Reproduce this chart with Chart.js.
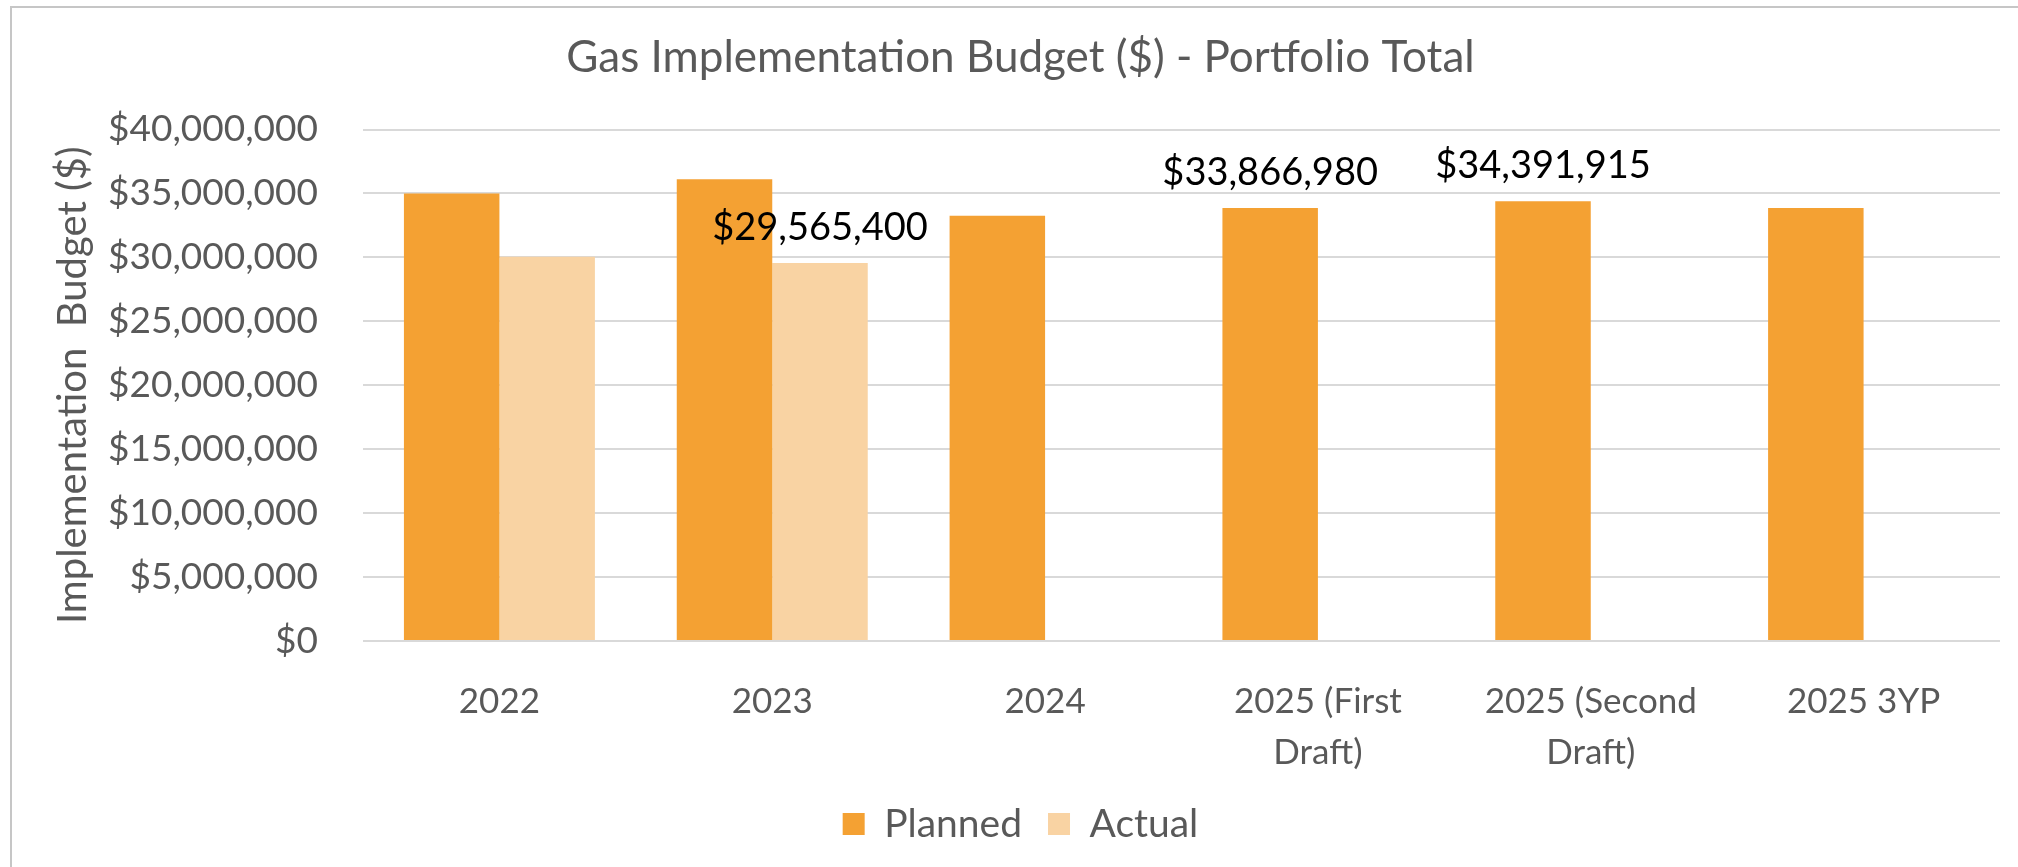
<!DOCTYPE html>
<html>
<head>
<meta charset="utf-8">
<script src="https://cdn.jsdelivr.net/npm/chart.js@4/dist/chart.umd.min.js"></script>
<style>
  html, body { margin: 0; padding: 0; background: #fff; }
  #wrap { position: relative; width: 2018px; height: 867px; }
  #frame { position: absolute; left: 10px; top: 6px; right: 0; bottom: 0;
           border-top: 2px solid #c6c6c6; border-left: 2px solid #c6c6c6; pointer-events: none; }
</style>
</head>
<body>
<div id="wrap">
  <canvas id="myChart"></canvas>
  <div id="frame"></div>
</div>
<script>
// Dados do gráfico
const categories = ['2022', '2023', '2024', ['2025 (First', 'Draft)'], ['2025 (Second', 'Draft)'], '2025 3YP'];
const planned = [35000000, 36100000, 33250000, 33866980, 34391915, 33866980];
const actual = [30050000, 29565400, null, null, null, null];
// quais barras mostram o valor acima
const plannedShowLabel = [false, false, false, true, true, false];
const actualShowLabel = [false, true, false, false, false, false];
const yTicks = [0, 5000000, 10000000, 15000000, 20000000, 25000000, 30000000, 35000000, 40000000];

const fontFamily = 'Lato, "Open Sans", sans-serif';
const textGray = '#595959';

function money(v) {
    return '$' + Math.round(v).toLocaleString('en-US');
}

// plugin simples para os rótulos de valor
const valueLabels = {
    id: 'valueLabels',
    afterDatasetsDraw(chart) {
        const ctx = chart.ctx;
        const flags = [plannedShowLabel, actualShowLabel];
        ctx.save();
        ctx.font = '38px ' + fontFamily;
        ctx.fillStyle = '#000000';
        ctx.textAlign = 'center';
        ctx.textBaseline = 'alphabetic';
        chart.data.datasets.forEach((ds, di) => {
            const meta = chart.getDatasetMeta(di);
            meta.data.forEach((bar, i) => {
                if (!flags[di][i] || ds.data[i] == null) return;
                ctx.fillText(money(ds.data[i]), bar.x, bar.y - 23);
            });
        });
        ctx.restore();
    }
};

const ctx = document.getElementById('myChart').getContext('2d');
const myChart = new Chart(ctx, {
    type: 'bar',
    data: {
        labels: categories,
        datasets: [{
            label: 'Planned',
            data: planned,
            backgroundColor: '#F4A133',
            borderWidth: 0
        }, {
            label: 'Actual',
            data: actual,
            backgroundColor: '#F9D3A3',
            borderWidth: 0
        }]
    },
    options: {
        responsive: true,
        maintainAspectRatio: false,
        animation: false,
        categoryPercentage: 0.7,
        barPercentage: 1.0,
        layout: {
            padding: { left: 41, right: 18, top: 10, bottom: 13.5 }
        },
        plugins: {
            title: {
                display: true,
                text: 'Gas Implementation Budget ($) - Portfolio Total',
                color: textGray,
                font: { family: fontFamily, size: 44, weight: 'normal', lineHeight: 1.2 },
                padding: { top: 21.6, bottom: 45.1 }
            },
            legend: {
                position: 'bottom',
                labels: {
                    color: textGray,
                    font: { family: fontFamily, size: 39 },
                    boxWidth: 22,
                    boxHeight: 22,
                    padding: 26
                }
            },
            tooltip: { enabled: false }
        },
        scales: {
            x: {
                grid: { display: false },
                border: { display: false },
                ticks: {
                    color: textGray,
                    font: { family: fontFamily, size: 35, lineHeight: 1.47 },
                    padding: 27,
                    maxRotation: 0,
                    autoSkip: false
                },
                afterFit: function(scale) { scale.height = 137.5; }
            },
            y: {
                min: 0,
                max: 40000000,
                border: { display: false },
                grid: { color: '#D9D9D9', lineWidth: 2, drawTicks: false },
                ticks: {
                    color: textGray,
                    font: { family: fontFamily, size: 37 },
                    padding: 45,
                    callback: function(v) { return money(v); }
                },
                afterBuildTicks: function(scale) {
                    scale.ticks = yTicks.map(v => ({ value: v }));
                },
                title: {
                    display: true,
                    text: 'Implementation  Budget ($)',
                    color: textGray,
                    font: { family: fontFamily, size: 40, lineHeight: 1.2 },
                    padding: { top: 8, bottom: 0 }
                },
                afterFit: function(scale) { scale.width = 322; }
            }
        }
    },
    plugins: [valueLabels]
});
</script>
</body>
</html>
